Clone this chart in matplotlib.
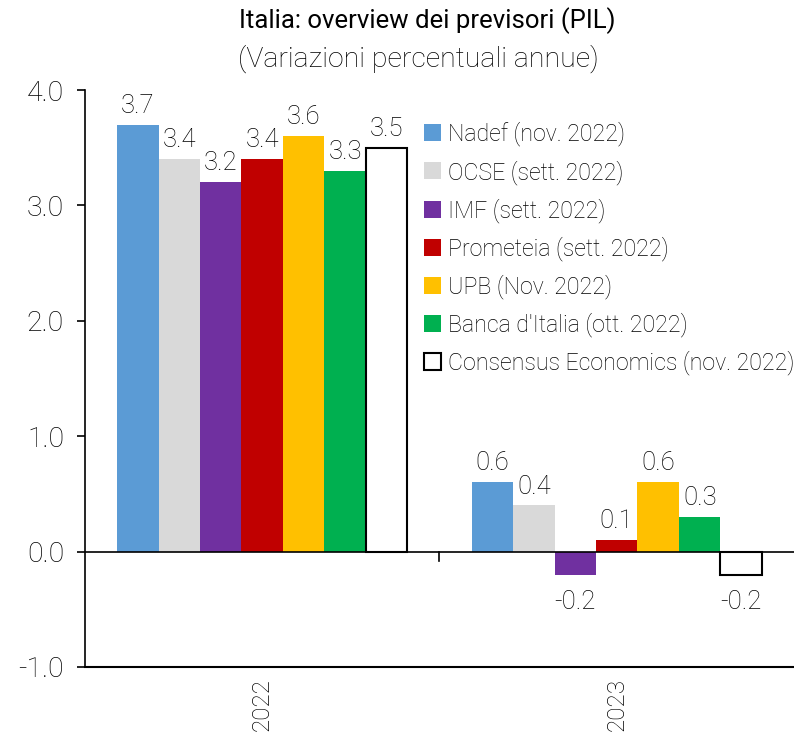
import numpy as np
import matplotlib.pyplot as plt

plt.rcParams['font.family'] = ['Roboto', 'DejaVu Sans']

# data
years = ['2022', '2023']
sources = ['Nadef (nov. 2022)', 'OCSE (sett. 2022)', 'IMF (sett. 2022)',
           'Prometeia (sett. 2022)', 'UPB (Nov. 2022)', "Banca d'Italia (ott. 2022)",
           'Consensus Economics (nov. 2022)']
nadef = [3.7, 0.6]
ocse = [3.4, 0.4]
imf = [3.2, -0.2]
prometeia = [3.4, 0.1]
upb = [3.6, 0.6]
bankit = [3.3, 0.3]
consensus = [3.5, -0.2]
series = [nadef, ocse, imf, prometeia, upb, bankit, consensus]
colors = ['#5B9BD5', '#D9D9D9', '#7030A0', '#C00000', '#FFC000', '#00B050', 'white']

fig = plt.figure(figsize=(7.94, 7.41), dpi=100)
ax = fig.add_axes([0.107, 0.0999, 0.893, 0.7786])

x = np.arange(len(years))
w = 0.117
for i, (vals, name, col) in enumerate(zip(series, sources, colors)):
    pos = x + (i - 3) * w
    edge = 'black' if col == 'white' else col
    lw = 1.5 if col == 'white' else 0
    ax.bar(pos, vals, w, color=col, edgecolor=edge, linewidth=lw, label=name)
    for p, v in zip(pos, vals):
        if v >= 0:
            ax.text(p, v + 0.06, f'{v:.1f}', ha='center', va='bottom',
                    fontsize=18.5, fontweight='light')
        else:
            ax.text(p, v - 0.13, f'{v:.1f}', ha='center', va='top',
                    fontsize=18.5, fontweight='light')

# zero line with separator tick
ax.axhline(0, color='black', lw=1.2)
ax.plot([0.5, 0.5], [0, -0.08], color='black', lw=1.2)

ax.set_xlim(-0.5, 1.5)
ax.set_ylim(-1, 4)
ax.set_yticks(np.arange(-1, 4.1, 1))
ax.set_yticklabels([f'{v:.1f}' for v in np.arange(-1, 4.1, 1)], fontsize=20.5, fontweight='light')
ax.set_xticks(x)
ax.set_xticklabels(years, rotation=90, fontsize=17.5, fontweight='light')
ax.tick_params(axis='x', length=0, pad=8)
ax.tick_params(axis='y', length=6, width=1.2, pad=9)
for s in ['top', 'right']:
    ax.spines[s].set_visible(False)
ax.spines['left'].set_linewidth(1.2)
ax.spines['bottom'].set_linewidth(1.5)

leg = ax.legend(loc='upper left', bbox_to_anchor=(0.478, 0.945), frameon=False,
                prop={'size': 16.7, 'weight': 'light'}, handlelength=0.75,
                handleheight=0.75, handletextpad=0.3, labelspacing=0.58,
                borderaxespad=0, borderpad=0)

fig.text(0.538, 0.972, 'Italia: overview dei previsori (PIL)', ha='center', va='center',
         fontsize=18.5)
fig.text(0.527, 0.921, '(Variazioni percentuali annue)', ha='center', va='center',
         fontsize=20.5, fontweight='light')

fig.savefig('out.png', dpi=100)
